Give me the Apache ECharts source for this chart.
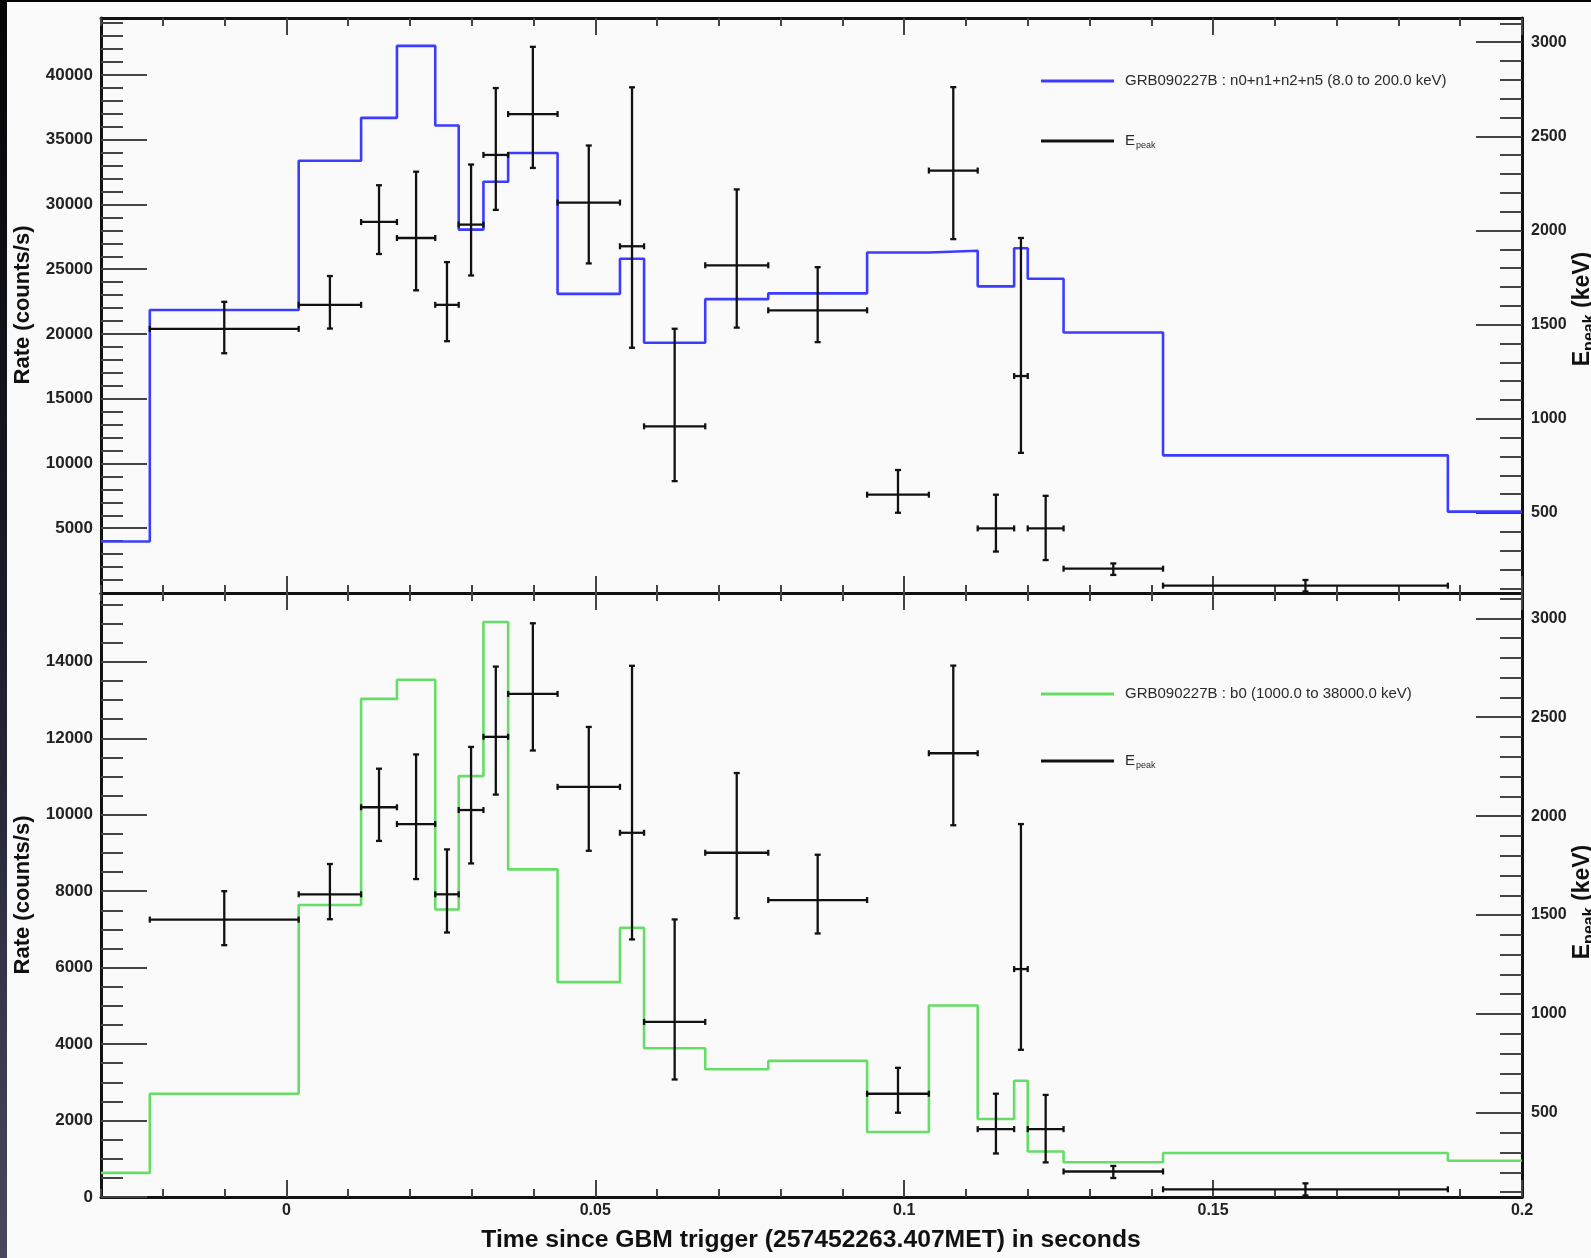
<!DOCTYPE html>
<html>
<head>
<meta charset="utf-8">
<title>GRB090227B light curves and Epeak</title>
<script src="https://cdn.jsdelivr.net/npm/echarts@6/dist/echarts.min.js"></script>
<style>
  html, body { margin: 0; padding: 0; background: #fafafa; }
  #chart { position: absolute; left: 0; top: 0; width: 1591px; height: 1258px; }
</style>
</head>
<body>
<div id="chart"></div>
<script>
// ---- light-curve binning (seconds since trigger); the first and last edges are the visible window ----
const binEdges = [-0.03, -0.0221, 0.0020, 0.0121, 0.0179, 0.0241, 0.0279, 0.0319, 0.0359, 0.0439,
  0.0540, 0.0579, 0.0678, 0.0780, 0.0940, 0.1040, 0.1119, 0.1178, 0.1200, 0.1258, 0.1419, 0.1880, 0.2];

// NaI (n0+n1+n2+n5, 8-200 keV) count rate per bin
const naiRate = [3977, 21850, 33380, 36690, 42250, 36100, 28060, 31750, 33980, 23100, 25810,
  19320, 22690, 23140, 26290, 26430, 23680, 26620, 24260, 20110, 10630, 6280];

// BGO (b0, 1000-38000 keV) count rate per bin
const bgoRate = [630, 2700, 7640, 13030, 13530, 7520, 11010, 15040, 8570, 5620, 7040,
  3890, 3340, 3560, 1700, 5010, 2040, 3040, 1190, 910, 1150, 950];

// time-resolved spectral peak energy (keV) with its interval and error range
const epeakStart = [-0.0221, 0.0020, 0.0121, 0.0179, 0.0241, 0.0279, 0.0319, 0.0359, 0.0439, 0.0540,
  0.0579, 0.0678, 0.0780, 0.0940, 0.1040, 0.1119, 0.1178, 0.1200, 0.1258, 0.1419];
const epeakEnd = [0.0020, 0.0121, 0.0179, 0.0241, 0.0279, 0.0319, 0.0359, 0.0439, 0.0540, 0.0579,
  0.0678, 0.0780, 0.0940, 0.1040, 0.1119, 0.1178, 0.1200, 0.1258, 0.1419, 0.1880];
const epeakValue = [1477, 1605, 2045, 1960, 1605, 2031, 2401, 2618, 2148, 1916,
  960, 1815, 1576, 597, 2318, 418, 1227, 418, 204, 114];
const epeakLow = [1348, 1479, 1875, 1682, 1412, 1761, 2109, 2332, 1825, 1377,
  669, 1484, 1407, 501, 1954, 295, 819, 250, 171, 83];
const epeakHigh = [1621, 1758, 2240, 2312, 1832, 2350, 2756, 2975, 2451, 2760,
  1478, 2218, 1805, 728, 2761, 597, 1960, 591, 232, 144];

// ---- axis ticks and labels ----
const timeMajorTicks = [0, 0.05, 0.1, 0.15, 0.2];
const timeTickLabels = ['0', '0.05', '0.1', '0.15', '0.2'];
const timeMinorTicks = [-0.03, -0.02, -0.01, 0.01, 0.02, 0.03, 0.04, 0.06, 0.07, 0.08, 0.09,
  0.11, 0.12, 0.13, 0.14, 0.16, 0.17, 0.18, 0.19];

const naiRateTicks = [5000, 10000, 15000, 20000, 25000, 30000, 35000, 40000];
const naiRateLabels = ['5000', '10000', '15000', '20000', '25000', '30000', '35000', '40000'];
const bgoRateTicks = [0, 2000, 4000, 6000, 8000, 10000, 12000, 14000];
const bgoRateLabels = ['0', '2000', '4000', '6000', '8000', '10000', '12000', '14000'];
const epeakTicks = [500, 1000, 1500, 2000, 2500, 3000];
const epeakLabels = ['500', '1000', '1500', '2000', '2500', '3000'];

const naiName = 'GRB090227B : n0+n1+n2+n5 (8.0 to 200.0 keV)';
const bgoName = 'GRB090227B : b0 (1000.0 to 38000.0 keV)';
const epeakName = 'Epeak';

// ---- helpers ----
const FONT = '"Liberation Sans", Arial, Helvetica, sans-serif';
const FRAME = { lineStyle: { color: '#111', width: 3 } };
const TICK_STYLE = { color: '#444', width: 2 };

function minorSteps(from, to, step, skip) {
  const out = [];
  for (let v = from; v <= to + 1e-9; v += step) {
    if (v % skip !== 0) out.push(v);
  }
  return out;
}

function labelFor(ticks, labels) {
  return function (v) {
    for (let i = 0; i < ticks.length; i++) {
      if (Math.abs(ticks[i] - v) < 1e-9 * Math.max(1, Math.abs(v))) return labels[i];
    }
    return '';
  };
}

function stepData(rates) {
  const pts = rates.map((r, i) => [binEdges[i], r]);
  pts.push([binEdges[binEdges.length - 1], rates[rates.length - 1]]);
  return pts;
}

const epeakData = epeakValue.map((v, i) => [epeakStart[i], epeakEnd[i], v, epeakLow[i], epeakHigh[i]]);

function renderErrorBar(params, api) {
  const lo = api.value(0), hi = api.value(1), v = api.value(2);
  const eLo = api.value(3), eHi = api.value(4);
  const mid = (lo + hi) / 2;
  const pL = api.coord([lo, v]), pR = api.coord([hi, v]);
  const pB = api.coord([mid, eLo]), pT = api.coord([mid, eHi]);
  const c = 3;
  const st = { stroke: '#111', lineWidth: 2.3 };
  const seg = (x1, y1, x2, y2) => ({ type: 'line', shape: { x1, y1, x2, y2 }, style: st });
  return {
    type: 'group',
    children: [
      seg(pL[0], pL[1], pR[0], pR[1]),
      seg(pB[0], pB[1], pT[0], pT[1]),
      seg(pL[0], pL[1] - c, pL[0], pL[1] + c),
      seg(pR[0], pR[1] - c, pR[0], pR[1] + c),
      seg(pT[0] - c, pT[1], pT[0] + c, pT[1]),
      seg(pB[0] - c, pB[1], pB[0] + c, pB[1])
    ]
  };
}

// time axes: for each panel, bottom + top edges, each with a major and a minor tick layer
function timeAxes(gridIndex, withLabels) {
  const base = { type: 'value', gridIndex, min: -0.03, max: 0.2, splitLine: { show: false } };
  const major = (position, labels) => Object.assign({}, base, {
    position,
    axisLine: Object.assign({ show: true, onZero: false }, FRAME),
    axisTick: { show: true, inside: true, length: 17, lineStyle: TICK_STYLE, customValues: timeMajorTicks },
    axisLabel: labels ? {
      show: true, customValues: timeMajorTicks, formatter: labelFor(timeMajorTicks, timeTickLabels),
      fontFamily: FONT, fontWeight: 'bold', fontSize: 16, color: '#222', margin: 6
    } : { show: false }
  });
  const minor = (position) => Object.assign({}, base, {
    position,
    axisLine: { show: false, onZero: false },
    axisTick: { show: true, inside: true, length: 8, lineStyle: TICK_STYLE, customValues: timeMinorTicks },
    axisLabel: { show: false }
  });
  return [major('bottom', withLabels), minor('bottom'), major('top', false), minor('top')];
}

// value axes: left rate axis and right Epeak axis, each with major (labelled) and minor tick layers
function valueAxes(gridIndex, rateMax, rateTicks, rateLabels, rateMinor) {
  const rateBase = { type: 'value', gridIndex, position: 'left', min: 0, max: rateMax, splitLine: { show: false } };
  const eBase = { type: 'value', gridIndex, position: 'right', min: 75, max: 3128, splitLine: { show: false } };
  return [
    Object.assign({}, rateBase, {
      axisLine: Object.assign({ show: true, onZero: false }, FRAME),
      axisTick: { show: true, inside: true, length: 46, lineStyle: TICK_STYLE, customValues: rateTicks },
      axisLabel: {
        show: true, customValues: rateTicks, formatter: labelFor(rateTicks, rateLabels),
        fontFamily: FONT, fontWeight: 'bold', fontSize: 17, color: '#222', margin: 8
      }
    }),
    Object.assign({}, rateBase, {
      axisLine: { show: false, onZero: false },
      axisTick: { show: true, inside: true, length: 22, lineStyle: TICK_STYLE, customValues: rateMinor },
      axisLabel: { show: false }
    }),
    Object.assign({}, eBase, {
      axisLine: Object.assign({ show: true, onZero: false }, FRAME),
      axisTick: { show: true, inside: true, length: 46, lineStyle: TICK_STYLE, customValues: epeakTicks },
      axisLabel: {
        show: true, customValues: epeakTicks, formatter: labelFor(epeakTicks, epeakLabels),
        fontFamily: FONT, fontWeight: 'bold', fontSize: 16, color: '#222', margin: 9
      }
    }),
    Object.assign({}, eBase, {
      axisLine: { show: false, onZero: false },
      axisTick: { show: true, inside: true, length: 22, lineStyle: TICK_STYLE, customValues: minorSteps(100, 3100, 100, 500) },
      axisLabel: { show: false }
    })
  ];
}

function legendFor(names, top, gap) {
  return {
    data: names, orient: 'vertical', left: 1036, top, itemWidth: 73, itemHeight: 3, itemGap: gap,
    icon: 'rect', selectedMode: false,
    formatter: (n) => n === epeakName ? '{e|E}{s|peak}' : n,
    textStyle: {
      fontFamily: FONT, fontSize: 15, color: '#2a2a2a', lineHeight: 20, padding: [0, 0, 0, 6],
      rich: {
        e: { fontFamily: FONT, fontSize: 15, color: '#2a2a2a', lineHeight: 20 },
        s: { fontFamily: FONT, fontSize: 9, color: '#2a2a2a', lineHeight: 20, padding: [10, 0, 0, 1] }
      }
    }
  };
}

const chart = echarts.init(document.getElementById('chart'), null, { renderer: 'canvas' });

const titleRich = {
  e: { font: 'bold 23px ' + FONT, fill: '#111', lineHeight: 26 },
  s: { font: 'bold 16px ' + FONT, fill: '#111', lineHeight: 26, padding: [14, 0, 0, 0] }
};

const option = {
  animation: false,
  backgroundColor: '#fafafa',
  grid: [
    { left: 101, right: 69, top: 18, height: 575 },
    { left: 101, right: 69, top: 593, height: 604 }
  ],
  xAxis: [].concat(timeAxes(0, false), timeAxes(1, true)),
  yAxis: [].concat(
    valueAxes(0, 44400, naiRateTicks, naiRateLabels, minorSteps(1000, 44000, 1000, 5000)),
    valueAxes(1, 15800, bgoRateTicks, bgoRateLabels, minorSteps(500, 15500, 500, 2000))
  ),
  legend: [
    legendFor([naiName, epeakName], 66, 40),
    legendFor([bgoName, epeakName], 679, 47)
  ],
  series: [
    {
      name: naiName, type: 'line', xAxisIndex: 0, yAxisIndex: 0, step: 'end',
      data: stepData(naiRate), showSymbol: false, symbol: 'none',
      color: '#3c3cff', lineStyle: { color: '#3c3cff', width: 2.6 }, z: 3
    },
    {
      name: epeakName, type: 'custom', xAxisIndex: 0, yAxisIndex: 2,
      data: epeakData, renderItem: renderErrorBar, itemStyle: { color: '#111' },
      encode: { x: [0, 1], y: [2, 3, 4] }, z: 4
    },
    {
      name: bgoName, type: 'line', xAxisIndex: 4, yAxisIndex: 4, step: 'end',
      data: stepData(bgoRate), showSymbol: false, symbol: 'none',
      color: '#66dd66', lineStyle: { color: '#66dd66', width: 2.6 }, z: 3
    },
    {
      name: epeakName, type: 'custom', xAxisIndex: 4, yAxisIndex: 6,
      data: epeakData, renderItem: renderErrorBar, itemStyle: { color: '#111' },
      encode: { x: [0, 1], y: [2, 3, 4] }, z: 4
    }
  ],
  graphic: [
    {
      type: 'rect', left: 0, top: 0, z: 100,
      shape: { width: 7, height: 1258 },
      style: { fill: new echarts.graphic.LinearGradient(0, 0, 0, 1, [
        { offset: 0, color: '#050505' }, { offset: 0.5, color: '#1c1c2c' }, { offset: 1, color: '#4a4860' }
      ]) }
    },
    { type: 'rect', left: 0, top: 0, z: 100, shape: { width: 1591, height: 2 }, style: { fill: '#050505' } },
    {
      type: 'text', x: 12, y: 305, rotation: Math.PI / 2,
      style: { text: 'Rate (counts/s)', font: 'bold 22px ' + FONT, fill: '#111', align: 'center', verticalAlign: 'top' }
    },
    {
      type: 'text', x: 12, y: 895, rotation: Math.PI / 2,
      style: { text: 'Rate (counts/s)', font: 'bold 22px ' + FONT, fill: '#111', align: 'center', verticalAlign: 'top' }
    },
    {
      type: 'text', x: 1570, y: 309, rotation: Math.PI / 2,
      style: { text: '{e|E}{s|peak}{e| (keV)}', align: 'center', verticalAlign: 'top', rich: titleRich }
    },
    {
      type: 'text', x: 1570, y: 902, rotation: Math.PI / 2,
      style: { text: '{e|E}{s|peak}{e| (keV)}', align: 'center', verticalAlign: 'top', rich: titleRich }
    },
    {
      type: 'text', x: 811, y: 1240,
      style: {
        text: 'Time since GBM trigger (257452263.407MET) in seconds', font: 'bold 24.7px ' + FONT,
        fill: '#111', align: 'center', verticalAlign: 'middle'
      }
    }
  ]
};

chart.setOption(option);
</script>
</body>
</html>
